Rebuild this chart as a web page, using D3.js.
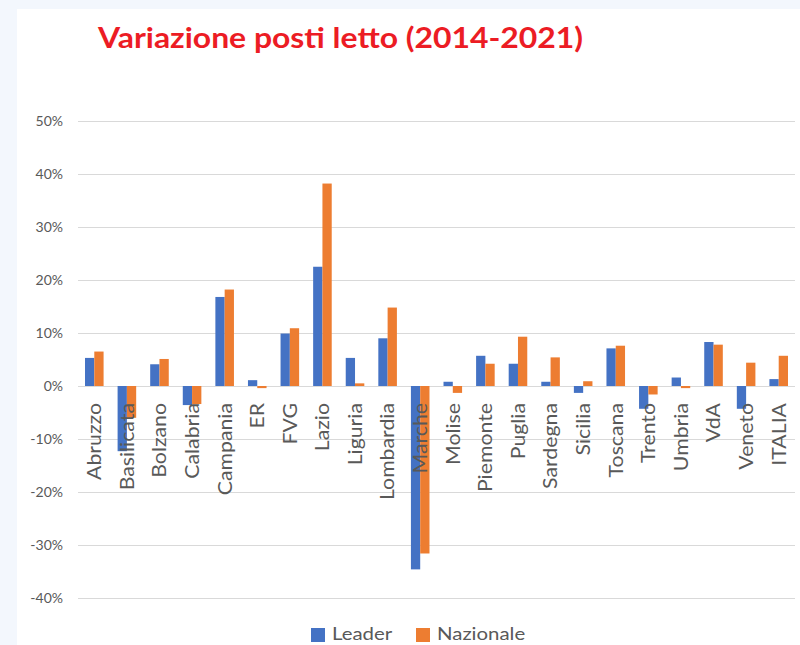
<!DOCTYPE html>
<html>
<head>
<meta charset="utf-8">
<script src="https://cdn.jsdelivr.net/npm/d3@7"></script>
<style>
  html, body { margin: 0; padding: 0; background: #f3f7fd; }
  svg { display: block; }
</style>
</head>
<body>
<svg id="chart" width="800" height="645"></svg>
<script>
const title = "Variazione posti letto (2014-2021)";
const categories = ["Abruzzo","Basilicata","Bolzano","Calabria","Campania","ER","FVG","Lazio","Liguria","Lombardia","Marche","Molise","Piemonte","Puglia","Sardegna","Sicilia","Toscana","Trento","Umbria","VdA","Veneto","ITALIA"];
const seriesNames = ["Leader","Nazionale"];
const leader =    [5.3, -12.3, 4.1, -3.6, 16.8, 1.1, 9.9, 22.5, 5.3, 9.0, -34.6, 0.8, 5.7, 4.2, 0.8, -1.3, 7.1, -4.3, 1.6, 8.3, -4.3, 1.3];
const nazionale = [6.5, -6.0, 5.1, -3.4, 18.2, -0.4, 10.9, 38.2, 0.5, 14.8, -31.6, -1.3, 4.2, 9.3, 5.4, 0.9, 7.6, -1.6, -0.4, 7.8, 4.4, 5.7];
const yTicks = [-40, -30, -20, -10, 0, 10, 20, 30, 40, 50];
const colors = ["#4472C4", "#ED7D31"];
</script>
<script>
const svg = d3.select("#chart");

// white panel
svg.append("rect").attr("x", 17).attr("y", 9).attr("width", 783).attr("height", 640).attr("fill", "#ffffff");

// title
svg.append("text")
  .attr("transform", "translate(98,48) scale(1.1,1)")
  .attr("font-family", "Lato, sans-serif")
  .attr("font-weight", "bold")
  .attr("font-size", 29)
  .attr("fill", "#ec1c24")
  .text(title);

const plot = { left: 78, right: 795, top: 121, bottom: 598 };

const y = d3.scaleLinear().domain([-40, 50]).range([plot.bottom, plot.top]);
const x0 = d3.scaleBand().domain(categories).range([plot.left, plot.right]).paddingInner(0.43).paddingOuter(0.215);
const x1 = d3.scaleBand().domain(seriesNames).range([0, x0.bandwidth()]);

// gridlines + y labels via axis
const yAxis = d3.axisLeft(y).tickValues(yTicks).tickFormat(d => d + "%").tickSize(-(plot.right - plot.left)).tickPadding(15);
const gy = svg.append("g").attr("transform", `translate(${plot.left},0)`).call(yAxis);
gy.select(".domain").remove();
gy.selectAll(".tick line").attr("stroke", "#d9d9d9").attr("stroke-width", 1);
gy.selectAll(".tick text")
  .attr("font-family", "Lato, sans-serif")
  .attr("font-size", 14)
  .attr("fill", "#595959");

// bars
const data = categories.map((c, i) => ({ cat: c, vals: [leader[i], nazionale[i]] }));
const groups = svg.append("g").selectAll("g").data(data).join("g")
  .attr("transform", d => `translate(${x0(d.cat)},0)`);
groups.selectAll("rect").data(d => d.vals.map((v, k) => ({ k, v })))
  .join("rect")
  .attr("x", d => x1(seriesNames[d.k]))
  .attr("width", x1.bandwidth())
  .attr("y", d => y(Math.max(0, d.v)))
  .attr("height", d => Math.abs(y(d.v) - y(0)))
  .attr("fill", d => colors[d.k]);

// category labels (rotated)
const labelTop = y(0) + 17;
svg.append("g").selectAll("text").data(categories).join("text")
  .attr("transform", d => `translate(${x0(d) + x0.bandwidth() / 2},${labelTop}) rotate(-90) scale(1.12,1)`)
  .attr("text-anchor", "end")
  .attr("dy", "0.36em")
  .attr("font-family", "Lato, sans-serif")
  .attr("font-size", 19)
  .attr("fill", "#595959")
  .text(d => d);

// legend
const legend = svg.append("g");
const legX = [311, 416];
seriesNames.forEach((s, i) => {
  legend.append("rect").attr("x", legX[i]).attr("y", 628).attr("width", 14).attr("height", 14).attr("fill", colors[i]);
  legend.append("text").attr("transform", `translate(${legX[i] + 21},640) scale(1.2,1)`)
    .attr("font-family", "Lato, sans-serif").attr("font-size", 17).attr("fill", "#595959").text(s);
});
</script>
</body>
</html>
